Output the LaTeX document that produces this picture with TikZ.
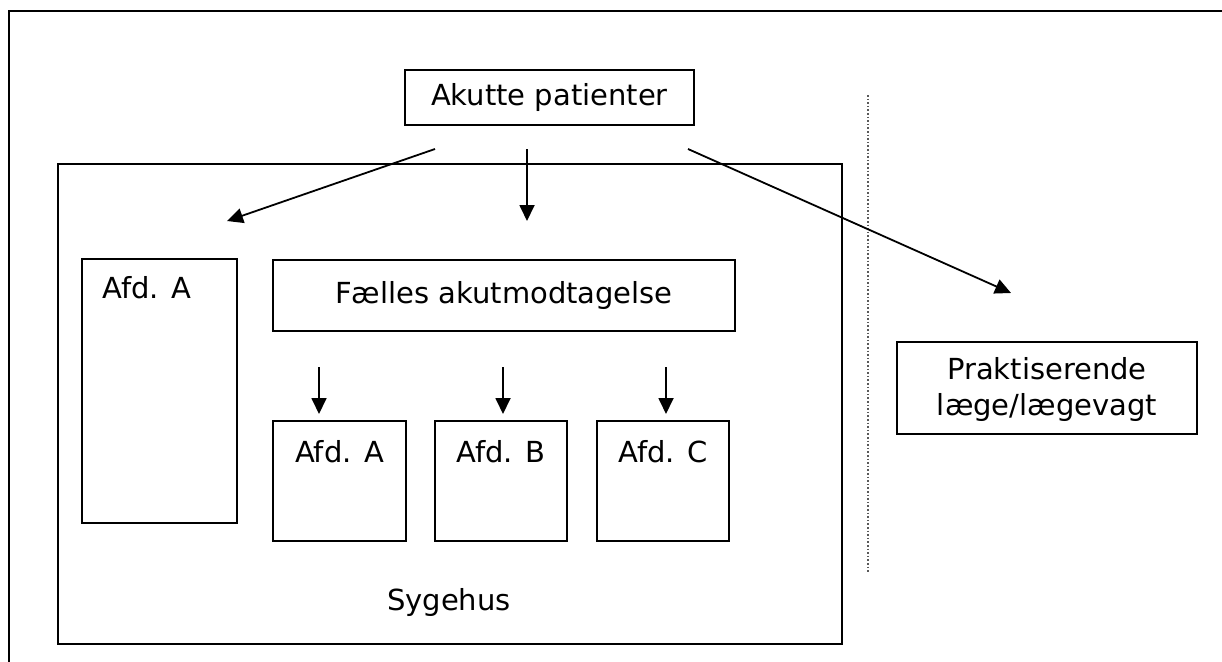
\documentclass[tikz,border=0pt]{standalone}
\usepackage{fontspec}
\setmainfont{DejaVu Sans}
\usetikzlibrary{arrows.meta}
\begin{document}
\begin{tikzpicture}[x=1pt,y=-1pt,
  frame/.style={draw=black,line width=2pt},
  boxnode/.style={draw=black,line width=1.9pt,inner sep=0pt,anchor=north west},
  lbl/.style={font=\fontsize{29}{33}\selectfont,inner sep=0pt,align=center},
  flow/.style={line width=1.8pt,-{Triangle[length=16pt,width=15pt]}}]
  \useasboundingbox (0,0) rectangle (1222,661);
  \clip (0,0) rectangle (1222,661);
  % outer frame, running past the page on the right and at the bottom
  \draw[frame] (9,11) rectangle (1260,700);
  % separator between hospital and general practice
  \draw[line width=1.6pt,dotted,gray!70!black] (868,95) -- (868,573);

  % hospital
  \node[boxnode,minimum width=784pt,minimum height=480pt] (sygehus) at (57,163) {};
  \node[lbl] (sygehuslbl) at (449,602) {Sygehus};

  % incoming patients
  \node[boxnode,minimum width=289pt,minimum height=55pt] (akut) at (404,69) {};
  \node[lbl] at (akut.center) {Akutte patienter};

  % own department
  \node[boxnode,minimum width=155pt,minimum height=264pt] (afdA1) at (81,258) {};
  \node[lbl,anchor=base west] at (102,298) {Afd. A};

  % shared emergency unit
  \node[boxnode,minimum width=462pt,minimum height=71pt] (faelles) at (272,259) {};
  \node[lbl] at (faelles.center) {Fælles akutmodtagelse};

  % departments behind the shared unit
  \node[boxnode,minimum width=133pt,minimum height=120pt] (afdA) at (272,420) {};
  \node[boxnode,minimum width=132pt,minimum height=120pt] (afdB) at (434,420) {};
  \node[boxnode,minimum width=132pt,minimum height=120pt] (afdC) at (596,420) {};
  \node[lbl,anchor=base] at ([yshift=-42pt]afdA.north) {Afd. A};
  \node[lbl,anchor=base] at ([yshift=-42pt]afdB.north) {Afd. B};
  \node[lbl,anchor=base] at ([yshift=-42pt]afdC.north) {Afd. C};

  % general practitioner / out-of-hours service
  \node[boxnode,minimum width=300pt,minimum height=92pt] (praks) at (896,341) {};
  \node[lbl,anchor=base] at ([yshift=-38pt]praks.north) {Praktiserende};
  \node[lbl,anchor=base] at ([yshift=-74pt]praks.north) {læge/lægevagt};

  % arrow end points
  \coordinate (a1s) at (435,149);
  \coordinate (a1e) at (227,221);
  \coordinate (a2s) at (527,149);
  \coordinate (a2e) at (527,221);
  \coordinate (a3s) at (688,149);
  \coordinate (a3e) at (1011,293);
  \coordinate (bAs) at (319,367);
  \coordinate (bBs) at (503,367);
  \coordinate (bCs) at (666,367);
  \coordinate (bAe) at (319,414);
  \coordinate (bBe) at (503,414);
  \coordinate (bCe) at (666,414);

  \draw[flow] (a1s) -- (a1e);
  \draw[flow] (a2s) -- (a2e);
  \draw[flow] (a3s) -- (a3e);
  \draw[flow] (bAs) -- (bAe);
  \draw[flow] (bBs) -- (bBe);
  \draw[flow] (bCs) -- (bCe);
\end{tikzpicture}
\end{document}
